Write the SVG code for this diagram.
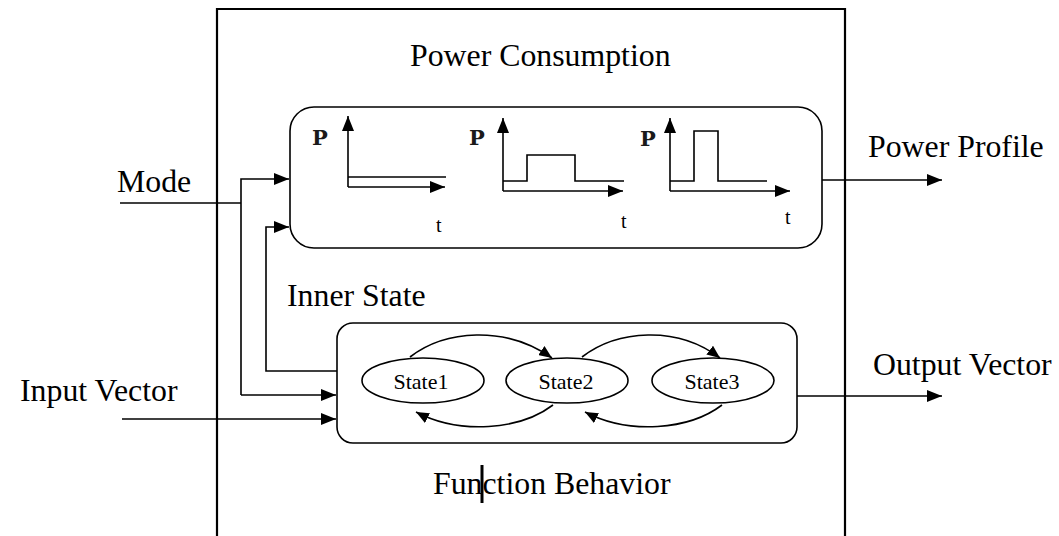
<svg xmlns="http://www.w3.org/2000/svg" width="1059" height="536" viewBox="0 0 1059 536">
<style>
.lbl{font-family:"Liberation Serif","Times New Roman",serif;font-size:31.8px;fill:#000}
.st{font-family:"Liberation Serif","Times New Roman",serif;font-size:22px;fill:#000;text-anchor:middle}
.p{font-family:"DejaVu Serif","Liberation Serif",serif;font-size:21px;font-weight:bold;fill:#1a1a1a}
.t{font-family:"Liberation Serif","Times New Roman",serif;font-size:20px;fill:#000}
.ln{fill:none;stroke:#000;stroke-width:1.6}
.box{fill:#fff;stroke:#000;stroke-width:1.6}
</style>
<defs>
<marker id="ah" markerUnits="userSpaceOnUse" markerWidth="15" markerHeight="12" refX="15" refY="6" orient="auto"><path d="M0,0 L15,6 L0,12 z" fill="#000"/></marker>
<marker id="sh" markerUnits="userSpaceOnUse" markerWidth="13" markerHeight="11" refX="13" refY="5.5" orient="auto"><path d="M0,0 L13,5.5 L0,11 z" fill="#000"/></marker>
</defs>
<rect width="1059" height="536" fill="#fff"/>
<g id="outer">
<path d="M217,536 V9 H845 V536" fill="none" stroke="#000" stroke-width="2.2"/>
</g>
<text class="lbl" x="410" y="66">Power Consumption</text>
<g id="power">
<rect class="box" x="290" y="107" width="532" height="141" rx="24"/>
<text class="p" x="312" y="145">P</text>
<path class="ln" d="M348,187 V116" marker-end="url(#ah)"/>
<path class="ln" d="M348,187 H445" marker-end="url(#ah)"/>
<path class="ln" d="M348,177 H446"/>
<text class="t" x="436" y="232">t</text>
<text class="p" x="469" y="145">P</text>
<path class="ln" d="M503,191 V118" marker-end="url(#ah)"/>
<path class="ln" d="M503,191 H623" marker-end="url(#ah)"/>
<path class="ln" d="M503,181 H527 V155 H575 V181 H624"/>
<text class="t" x="621" y="228">t</text>
<text class="p" x="640" y="146">P</text>
<path class="ln" d="M670,191 V118" marker-end="url(#ah)"/>
<path class="ln" d="M670,191 H790" marker-end="url(#ah)"/>
<path class="ln" d="M670,181 H694 V131 H718 V181 H767"/>
<text class="t" x="785" y="224">t</text>
</g>
<g id="function">
<rect class="box" x="337" y="323" width="460" height="120" rx="16"/>
<g id="state1"><ellipse class="box" cx="423" cy="380.5" rx="61" ry="22.5"/><text class="st" x="421" y="389">State1</text></g>
<g id="state2"><ellipse class="box" cx="567" cy="380.5" rx="61" ry="22.5"/><text class="st" x="566" y="389">State2</text></g>
<g id="state3"><ellipse class="box" cx="713" cy="380.5" rx="61" ry="22.5"/><text class="st" x="712" y="389">State3</text></g>
</g>
<g id="connectors">
<path class="ln" d="M410,357 C445,330 505,325 552,358" marker-end="url(#sh)"/>
<path class="ln" d="M582,357 C617,330 677,325 720,358" marker-end="url(#sh)"/>
<path class="ln" d="M553,405 C520,430 460,435 416,412" marker-end="url(#sh)"/>
<path class="ln" d="M722,405 C689,430 629,435 585,412" marker-end="url(#sh)"/>
<path class="ln" d="M120,203 H241"/>
<path class="ln" d="M241,395 V179 H289" marker-end="url(#ah)"/>
<path class="ln" d="M241,395 H336" marker-end="url(#ah)"/>
<path class="ln" d="M337,371 H266 V227 H289" marker-end="url(#ah)"/>
<path class="ln" d="M122,419 H336" marker-end="url(#ah)"/>
<path class="ln" d="M822,180 H942" marker-end="url(#ah)"/>
<path class="ln" d="M797,396 H942" marker-end="url(#ah)"/>
</g>
<text class="lbl" x="117" y="192">Mode</text>
<text class="lbl" x="287" y="306">Inner State</text>
<text class="lbl" x="20" y="401">Input Vector</text>
<text class="lbl" x="868" y="157">Power Profile</text>
<text class="lbl" x="873" y="375">Output Vector</text>
<text class="lbl" x="433" y="494">Function Behavior</text>
<line x1="482" y1="465" x2="482" y2="503" stroke="#000" stroke-width="3"/>
</svg>
